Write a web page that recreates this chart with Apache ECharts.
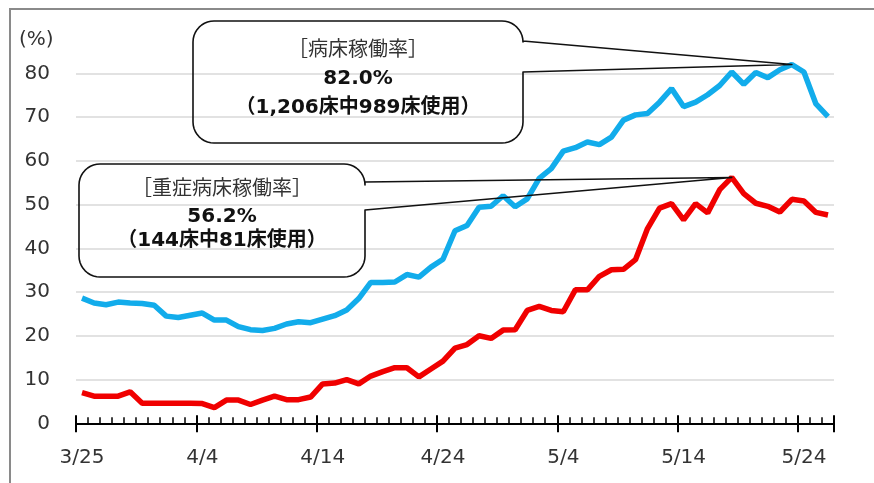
<!DOCTYPE html>
<html><head><meta charset="utf-8">
<script src="https://cdn.jsdelivr.net/npm/echarts@6/dist/echarts.min.js"></script>
<style>html,body{margin:0;padding:0;background:#fff}#c{width:874px;height:483px}</style>
</head><body><div id="c"></div>
<script>
const categories = [
 '3/25','3/26','3/27','3/28','3/29','3/30','3/31',
 '4/1','4/2','4/3','4/4','4/5','4/6','4/7','4/8','4/9','4/10','4/11','4/12','4/13','4/14','4/15',
 '4/16','4/17','4/18','4/19','4/20','4/21','4/22','4/23','4/24','4/25','4/26','4/27','4/28','4/29','4/30',
 '5/1','5/2','5/3','5/4','5/5','5/6','5/7','5/8','5/9','5/10','5/11','5/12','5/13','5/14','5/15',
 '5/16','5/17','5/18','5/19','5/20','5/21','5/22','5/23','5/24','5/25','5/26'
];
// 病床稼働率 (%)
const bedRate = [
 28.6,27.5,27.1,27.7,27.5,27.4,27.0,24.5,24.2,24.7,25.2,23.6,23.6,22.1,21.4,21.2,21.7,22.7,23.2,23.0,
 23.8,24.6,25.9,28.5,32.2,32.2,32.3,34.0,33.4,35.7,37.5,44.0,45.2,49.4,49.6,52.0,49.5,51.3,56.0,58.2,
 62.2,63.0,64.3,63.7,65.4,69.3,70.5,70.8,73.4,76.5,72.4,73.4,75.1,77.2,80.3,77.5,80.2,79.0,80.8,82.0,
 80.3,73.0,70.1
];
// 重症病床稼働率 (%)
const severeRate = [
 7.0,6.2,6.2,6.2,7.2,4.6,4.6,4.6,4.6,4.6,4.5,3.6,5.3,5.3,4.3,5.3,6.2,5.4,5.4,6.0,
 9.0,9.2,10.0,9.0,10.8,11.8,12.7,12.7,10.6,12.4,14.2,17.2,18.0,20.0,19.4,21.3,21.4,25.8,26.7,25.8,
 25.5,30.5,30.5,33.6,35.1,35.2,37.4,44.5,49.2,50.2,46.5,50.2,48.1,53.4,56.2,52.5,50.3,49.6,48.3,51.2,
 50.8,48.2,47.6
];
const bedLabel = ['［病床稼働率］','82.0%','（1,206床中989床使用）'];
const severeLabel = ['［重症病床稼働率］','56.2%','（144床中81床使用）'];
const yUnit = '(%)';

const chart = echarts.init(document.getElementById('c'), null, {renderer:'canvas'});
const AXFONT = 'DejaVu Sans';
const TXFONT = "'DejaVu Sans','Noto Sans CJK JP'";
const xBase = {type:'category', data:categories, boundaryGap:true, position:'bottom', gridIndex:0};
chart.setOption({
  animation:false,
  grid:{left:76, right:40, top:73.3, bottom:59.7, containLabel:false},
  xAxis:[
    Object.assign({}, xBase, {
      axisLine:{show:true, lineStyle:{color:'#000', width:2}},
      axisTick:{show:true, interval:0, inside:true, length:6, lineStyle:{color:'#000', width:1.5}},
      axisLabel:{interval:9, margin:24, fontFamily:AXFONT, fontSize:20, color:'#333'}
    }),
    Object.assign({}, xBase, {
      axisLine:{show:false},
      axisTick:{show:true, interval:9, inside:false, length:9, lineStyle:{color:'#000', width:2}},
      axisLabel:{show:false}
    }),
    Object.assign({}, xBase, {
      axisLine:{show:false},
      axisTick:{show:true, interval:9, inside:true, length:8, lineStyle:{color:'#000', width:2}},
      axisLabel:{show:false}
    })
  ],
  yAxis:{type:'value', min:0, max:80, interval:10,
    axisLine:{show:false}, axisTick:{show:false},
    axisLabel:{margin:26, fontFamily:AXFONT, fontSize:20, color:'#333'},
    splitLine:{lineStyle:{color:'#d9d9d9', width:1.5}}},
  series:[
    {type:'line', data:bedRate, symbol:'none', clip:false, lineStyle:{color:'#12ACEB', width:5.5}, z:3},
    {type:'line', data:severeRate, symbol:'none', clip:false, lineStyle:{color:'#F00000', width:5.5}, z:3}
  ]
});

function calloutPoints(x1,y1,x2,y2,r,ya,yb,tx,ty){
  const pts = [];
  function arc(cx,cy,a0,a1){
    for(let k=0;k<=10;k++){const a=a0+(a1-a0)*k/10; pts.push([cx+r*Math.cos(a), cy+r*Math.sin(a)]);}
  }
  arc(x1+r, y1+r, Math.PI, 1.5*Math.PI);
  arc(x2-r, y1+r, 1.5*Math.PI, 2*Math.PI);
  pts.push([x2, ya]); pts.push([tx, ty]); pts.push([x2, yb]);
  arc(x2-r, y2-r, 0, 0.5*Math.PI);
  arc(x1+r, y2-r, 0.5*Math.PI, Math.PI);
  return pts;
}
function textEl(x,y,t,size,bold,color){
  return {type:'text', x:x, y:y, z:10, style:{text:t, fill:color, font:(bold?'bold ':'')+size+'px '+TXFONT,
    align:'center', verticalAlign:'middle', textAlign:'center', textVerticalAlign:'middle'}};
}
const bi = bedRate.indexOf(Math.max.apply(null, bedRate));
const si = severeRate.indexOf(Math.max.apply(null, severeRate));
const tb = chart.convertToPixel({xAxisIndex:0, yAxisIndex:0}, [bi, bedRate[bi]]);
const ts = chart.convertToPixel({xAxisIndex:0, yAxisIndex:0}, [si, severeRate[si]]);

chart.setOption({graphic:[
  {type:'polyline', z:1, shape:{points:[[10,880],[10,9],[874,9]]}, style:{stroke:'#8a8a8a', lineWidth:2, fill:null}},
  {type:'text', x:19, y:40, style:{text:yUnit, fill:'#333', font:'20px '+AXFONT, align:'left', verticalAlign:'middle', textAlign:'left', textVerticalAlign:'middle'}},
  {type:'polygon', z:9, shape:{points:calloutPoints(193,21,523,143,21,41,72,tb[0],tb[1])},
    style:{stroke:'#111', lineWidth:1.6, fill:null, lineJoin:'round'}},
  {type:'polygon', z:9, shape:{points:calloutPoints(79,164,365,277,21,182,210,ts[0],ts[1])},
    style:{stroke:'#111', lineWidth:1.6, fill:null, lineJoin:'round'}},
  textEl(358,51,bedLabel[0],20,false,'#333'),
  textEl(358,79,bedLabel[1],20,true,'#111'),
  textEl(358,107.5,bedLabel[2],20,true,'#111'),
  textEl(222,190,severeLabel[0],20,false,'#333'),
  textEl(222,216.5,severeLabel[1],20,true,'#111'),
  textEl(222,241,severeLabel[2],20,true,'#111')
]});
</script></body></html>
